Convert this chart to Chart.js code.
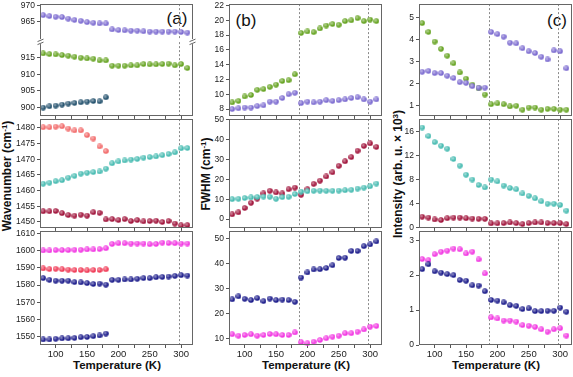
<!DOCTYPE html>
<html>
<head>
<meta charset="utf-8">
<script src="https://cdn.jsdelivr.net/npm/chart.js@4/dist/chart.umd.min.js"></script>
<style>
  html, body { margin: 0; padding: 0; background: #fff; }
  body { width: 573px; height: 377px; position: relative; overflow: hidden; font-family: 'Liberation Sans', Arial, sans-serif; }
  canvas { position: absolute; }
  .lbl { position: absolute; white-space: nowrap; color: #111; transform: translate(-50%, -50%); }
  .ytitle { font-weight: bold; font-size: 12px; transform: translate(-50%, -50%) rotate(-90deg); }
  .xtitle { font-weight: bold; font-size: 11.5px; }
  .tag { font-size: 17px; }
  sup { font-size: 8px; vertical-align: 4px; line-height: 0; }
</style>
</head>
<body>
<div class="lbl ytitle" style="left:7px;top:176px">Wavenumber (cm<sup>-1</sup>)</div>
<div class="lbl ytitle" style="left:206px;top:174px">FWHM (cm<sup>-1</sup>)</div>
<div class="lbl ytitle" style="left:398px;top:174px">Intensity (arb. u. × 10<sup>3</sup>)</div>
<div class="lbl xtitle" style="left:117px;top:365px">Temperature (K)</div>
<div class="lbl xtitle" style="left:306px;top:365px">Temperature (K)</div>
<div class="lbl xtitle" style="left:496px;top:365px">Temperature (K)</div>
<div class="lbl tag" style="left:177px;top:19px">(a)</div>
<div class="lbl tag" style="left:246px;top:21px">(b)</div>
<div class="lbl tag" style="left:557px;top:21px">(c)</div>
<script>
// temperatures (K)
const temps = [80, 90, 100, 110, 120, 130, 140, 150, 160, 170, 180,
               190, 200, 210, 220, 230, 240, 250, 260, 270, 280, 290, 300, 310];
const xTicks = [100, 125, 150, 175, 200, 225, 250, 275, 300];
const _ = null;

// (a) wavenumber
const aPurple = [967.0, 966.7, 966.5, 966.4, 965.9, 965.5, 965.2, 964.8, 964.6, 964.4, 964.4,
                 962.5, 962.3, 962.2, 962.1, 962.1, 961.9, 961.8, 961.8, 961.8, 961.8, 961.8, 961.7, 961.5];
const aGreen = [916.3, 916.1, 916.0, 915.8, 915.6, 915.3, 915.0, 914.8, 914.7, 914.2, 914.2,
                912.6, 912.6, 912.6, 912.7, 912.7, 913.1, 913.0, 913.0, 913.1, 913.2, 912.7, 913.1, 911.9];
const aDarkTeal = [900.0, 900.4, 900.6, 900.9, 901.2, 901.4, 901.6, 901.8, 902.0, 901.9, 903.1,
                   _, _, _, _, _, _, _, _, _, _, _, _, _];
const aSalmon = [1480.2, 1480.2, 1480.4, 1480.5, 1479.8, 1479.2, 1479.2, 1477.7, 1476.6, 1474.1, 1472.6,
                 _, _, _, _, _, _, _, _, _, _, _, _, _];
const aTeal = [1462.2, 1462.5, 1463.0, 1463.3, 1464.1, 1464.7, 1465.4, 1465.7, 1465.9, 1466.1, 1467.0,
               1468.7, 1469.3, 1469.6, 1469.9, 1470.1, 1470.5, 1470.7, 1470.9, 1471.3, 1471.7, 1472.2, 1473.5, 1473.6];
const aCrimson = [1453.4, 1453.4, 1453.5, 1452.8, 1452.2, 1452.0, 1452.3, 1452.0, 1453.1, 1452.9, 1450.8,
                  1450.9, 1450.6, 1450.9, 1450.3, 1450.6, 1450.2, 1450.3, 1450.4, 1450.0, 1450.3, 1449.5, 1448.9, 1449.0];
const aMagenta = [1600.0, 1600.0, 1600.2, 1600.2, 1600.2, 1600.4, 1600.4, 1600.6, 1600.6, 1600.8, 1601.3,
                  1603.8, 1604.2, 1604.2, 1604.0, 1604.0, 1604.0, 1603.6, 1603.8, 1604.5, 1604.3, 1604.2, 1604.0, 1604.0];
const aRed = [1589.6, 1589.2, 1589.4, 1589.1, 1588.9, 1588.7, 1588.7, 1588.5, 1588.7, 1588.7, 1589.1,
              _, _, _, _, _, _, _, _, _, _, _, _, _];
const aNavyHigh = [1584.0, 1583.0, 1582.5, 1582.5, 1582.5, 1581.7, 1581.5, 1581.1, 1580.6, 1580.8, 1580.2,
                   1583.0, 1583.0, 1583.2, 1583.2, 1583.6, 1584.0, 1584.0, 1584.5, 1584.7, 1584.9, 1585.3, 1585.7, 1585.5];
const aNavyLow = [1548.5, 1548.5, 1548.9, 1549.1, 1549.2, 1549.4, 1549.8, 1550.0, 1550.4, 1550.8, 1551.9,
                  _, _, _, _, _, _, _, _, _, _, _, _, _];

// (b) FWHM
const bGreen = [8.9, 9.1, 9.7, 9.9, 10.6, 10.7, 11.0, 11.3, 11.8, 11.9, 12.7,
                18.3, 18.5, 18.4, 18.9, 19.3, 19.5, 19.4, 19.9, 20.0, 20.3, 19.9, 20.1, 19.9];
const bPurple = [8.0, 8.1, 8.2, 8.2, 8.4, 8.5, 9.0, 9.0, 9.5, 10.0, 10.2,
                 8.8, 9.0, 8.9, 9.0, 9.2, 9.1, 9.2, 9.3, 9.5, 9.6, 9.3, 9.0, 9.3];
const bCrimson = [2.4, 3.4, 5.6, 8.2, 10.3, 12.9, 14.2, 13.4, 12.9, 15.0, 15.8,
                  12.2, 15.0, 17.7, 19.3, 21.4, 23.5, 26.7, 29.0, 31.1, 34.3, 36.7, 38.0, 36.2];
const bTeal = [10.0, 10.2, 10.6, 10.9, 11.1, 11.3, 11.2, 10.2, 11.0, 11.2, 12.6,
               13.8, 14.0, 14.2, 14.3, 14.2, 14.2, 14.3, 14.5, 14.7, 15.3, 15.8, 16.5, 17.8];
const bNavy = [25.8, 27.0, 26.0, 25.5, 26.3, 25.1, 26.1, 25.5, 25.7, 25.5, 24.8,
               34.5, 36.5, 37.7, 37.8, 38.3, 39.4, 42.3, 42.4, 45.1, 45.1, 47.0, 47.7, 48.9];
const bMagenta = [11.9, 11.3, 11.6, 11.9, 11.3, 11.6, 12.0, 11.9, 11.6, 11.6, 12.6,
                  8.7, 8.3, 8.9, 9.6, 10.3, 10.9, 11.3, 12.3, 12.3, 12.9, 13.8, 14.9, 15.2];

// (c) intensity
const cGreen = [4.74, 4.34, 3.90, 3.57, 3.26, 2.92, 2.50, 2.22, 1.95, 1.78, 1.50,
                1.06, 1.10, 1.06, 0.96, 0.99, 0.81, 0.91, 0.91, 0.81, 0.85, 0.85, 0.81, 0.81];
const cPurple = [2.53, 2.57, 2.47, 2.47, 2.35, 2.25, 2.06, 2.03, 1.88, 1.81, 1.81,
                 4.34, 4.24, 4.12, 3.85, 3.82, 3.60, 3.46, 3.38, 3.21, 3.09, 3.50, 3.46, 2.69];
const cTeal = [16.6, 15.2, 14.2, 13.6, 13.1, 11.4, 10.3, 8.8, 8.0, 7.1, 6.7,
               8.0, 7.7, 7.0, 6.6, 6.4, 5.7, 5.3, 4.9, 4.4, 4.0, 4.0, 3.8, 2.85];
const cCrimson = [1.85, 1.7, 1.4, 1.3, 1.6, 1.7, 1.7, 1.6, 1.55, 1.5, 1.5,
                  0.75, 0.75, 0.8, 0.9, 0.8, 0.64, 0.8, 0.9, 0.9, 0.8, 0.8, 0.8, 0.64];
const cMagenta = [2.46, 2.43, 2.60, 2.67, 2.70, 2.76, 2.74, 2.62, 2.67, 2.45, 2.05,
                  0.79, 0.76, 0.70, 0.70, 0.67, 0.57, 0.55, 0.52, 0.45, 0.38, 0.45, 0.48, 0.27];
const cNavy = [2.17, 2.31, 2.11, 2.07, 2.03, 2.00, 1.86, 1.84, 1.71, 1.70, 1.54,
               1.29, 1.27, 1.22, 1.14, 1.12, 1.03, 1.05, 0.97, 0.97, 0.98, 0.98, 1.07, 0.95];

const C = {
  purple: '#7c6bd0', green: '#65a320', darkTeal: '#22506c', salmon: '#f26a6a',
  teal: '#46bbb1', crimson: '#a0123a', magenta: '#f236e2', red: '#f03a56', navy: '#1a1a8a'
};

Chart.defaults.animation = false;
Chart.defaults.font.family = "'Liberation Sans', Arial, sans-serif";
Chart.defaults.font.size = 8.5;
Chart.defaults.color = '#222';

// small shaded ball marker
const balls = {};
function ball(color) {
  if (balls[color]) return balls[color];
  const c = document.createElement('canvas');
  c.width = 6; c.height = 6;
  const g = c.getContext('2d');
  g.beginPath(); g.arc(3, 3, 2.8, 0, Math.PI * 2);
  g.fillStyle = color; g.fill();
  const hl = g.createRadialGradient(2.2, 2.1, 0.1, 2.5, 2.5, 2.4);
  hl.addColorStop(0, 'rgba(255,255,255,0.55)');
  hl.addColorStop(1, 'rgba(255,255,255,0)');
  g.fillStyle = hl; g.fill();
  balls[color] = c;
  return c;
}

const PW = 153;
const LM = 38, TM = 6, RM = 6;

function panel(o) {
  const BM = o.xLabels ? 22 : 5;
  const cv = document.createElement('canvas');
  cv.width = LM + PW + RM;
  cv.height = TM + o.h + BM;
  cv.style.left = (o.x - LM) + 'px';
  cv.style.top = (o.y - TM) + 'px';
  document.body.appendChild(cv);

  const sides = o.sides || 'tlrb';
  const framePlugin = {
    id: 'frame',
    beforeDatasetsDraw(chart) {
      const { ctx, chartArea: a } = chart;
      const xs = chart.scales.x;
      ctx.save();
      ctx.strokeStyle = '#8a8a8a';
      ctx.lineWidth = 1;
      ctx.setLineDash([2, 2]);
      (o.vlines || []).forEach(t => {
        const px = Math.round(xs.getPixelForValue(t)) + 0.5;
        ctx.beginPath(); ctx.moveTo(px, a.top); ctx.lineTo(px, a.bottom); ctx.stroke();
      });
      ctx.restore();
    },
    afterDraw(chart) {
      const { ctx, chartArea: a } = chart;
      const l = Math.round(a.left) + 0.5, r = Math.round(a.right) - 0.5;
      const t = Math.round(a.top) + 0.5, b = Math.round(a.bottom) - 0.5;
      ctx.save();
      ctx.strokeStyle = '#666';
      ctx.lineWidth = 1;
      ctx.beginPath();
      if (sides.includes('t')) { ctx.moveTo(l, t); ctx.lineTo(r, t); }
      if (sides.includes('b')) { ctx.moveTo(l, b); ctx.lineTo(r, b); }
      if (sides.includes('l')) { ctx.moveTo(l, t - 0.5); ctx.lineTo(l, b + 0.5); }
      if (sides.includes('r')) { ctx.moveTo(r, t - 0.5); ctx.lineTo(r, b + 0.5); }
      ctx.stroke();
      if (o.breakMark) {
        [l, r].forEach(x => {
          ctx.fillStyle = '#fff';
          ctx.fillRect(x - 3, a.top - 2, 6, 4);
          ctx.beginPath();
          ctx.moveTo(x - 3, a.top - 0.5); ctx.lineTo(x + 3, a.top - 3);
          ctx.moveTo(x - 3, a.top + 2.5); ctx.lineTo(x + 3, a.top);
          ctx.stroke();
        });
      }
      ctx.restore();
    }
  };

  new Chart(cv, {
    type: 'scatter',
    data: {
      datasets: o.series.map(([vals, color]) => ({
        data: temps.map((t, i) => vals[i] == null ? null : { x: t, y: vals[i] }).filter(Boolean),
        pointStyle: ball(color),
        pointRadius: 3,
        showLine: false,
        clip: false
      }))
    },
    options: {
      responsive: false,
      animation: false,
      layout: { autoPadding: false, padding: { top: TM, right: RM, left: 0, bottom: 0 } },
      plugins: { legend: { display: false }, tooltip: { enabled: false } },
      scales: {
        x: {
          type: 'linear', min: 75, max: 319,
          afterBuildTicks: s => { s.ticks = xTicks.map(v => ({ value: v })); },
          afterFit: s => { s.height = BM; },
          border: { display: false },
          grid: { display: o.xTickMarks !== false, drawOnChartArea: false, tickLength: 3, color: '#555' },
          ticks: {
            display: !!o.xLabels, padding: 1, maxRotation: 0, autoSkip: false,
            font: { size: 9.5 },
            callback: v => (v % 50 === 0 ? String(v) : '')
          }
        },
        y: {
          min: o.min, max: o.max,
          afterBuildTicks: s => { s.ticks = o.yTicks.map(v => ({ value: v })); },
          afterFit: s => { s.width = LM; },
          border: { display: false },
          grid: { drawOnChartArea: false, tickLength: 3, color: '#555' },
          ticks: { padding: 2, autoSkip: false, callback: v => String(v) }
        }
      }
    },
    plugins: [framePlugin]
  });
}

const X = [40, 229, 419];

// (a)
panel({ x: X[0], y: 3, h: 38, min: 959.5, max: 970.5, yTicks: [965, 970], sides: 'tlr', xTickMarks: false,
        vlines: [297], series: [[aPurple, C.purple]] });
panel({ x: X[0], y: 41, h: 77, min: 897.5, max: 919.7, yTicks: [900, 905, 910, 915], sides: 'lrb', breakMark: true,
        vlines: [297], series: [[aGreen, C.green], [aDarkTeal, C.darkTeal]] });
panel({ x: X[0], y: 118, h: 112, min: 1448.1, max: 1482.8, yTicks: [1450, 1455, 1460, 1465, 1470, 1475, 1480],
        vlines: [297], series: [[aSalmon, C.salmon], [aTeal, C.teal], [aCrimson, C.crimson]] });
panel({ x: X[0], y: 230, h: 115, min: 1545.3, max: 1611.2, yTicks: [1550, 1560, 1570, 1580, 1590, 1600, 1610],
        xLabels: true, vlines: [297],
        series: [[aMagenta, C.magenta], [aRed, C.red], [aNavyHigh, C.navy], [aNavyLow, C.navy]] });

// (b)
panel({ x: X[1], y: 3, h: 115, min: 7.07, max: 22.2, yTicks: [8, 10, 12, 14, 16, 18, 20, 22],
        vlines: [186, 297], series: [[bGreen, C.green], [bPurple, C.purple]] });
panel({ x: X[1], y: 118, h: 112, min: -4.4, max: 50.15, yTicks: [0, 10, 20, 30, 40, 50],
        vlines: [186, 297], series: [[bTeal, C.teal], [bCrimson, C.crimson]] });
panel({ x: X[1], y: 230, h: 115, min: 7.6, max: 53.0, yTicks: [10, 20, 30, 40, 50], xLabels: true,
        vlines: [186, 297], series: [[bNavy, C.navy], [bMagenta, C.magenta]] });

// (c)
panel({ x: X[2], y: 3, h: 115, min: 0.53, max: 5.6, yTicks: [1, 2, 3, 4, 5],
        vlines: [186, 297], series: [[cPurple, C.purple], [cGreen, C.green]] });
panel({ x: X[2], y: 118, h: 112, min: 0, max: 18, yTicks: [0, 4, 8, 12, 16],
        vlines: [186, 297], series: [[cTeal, C.teal], [cCrimson, C.crimson]] });
panel({ x: X[2], y: 230, h: 115, min: 0, max: 3.26, yTicks: [0, 1, 2, 3], xLabels: true,
        vlines: [186, 297], series: [[cNavy, C.navy], [cMagenta, C.magenta]] });
</script>
</body>
</html>
